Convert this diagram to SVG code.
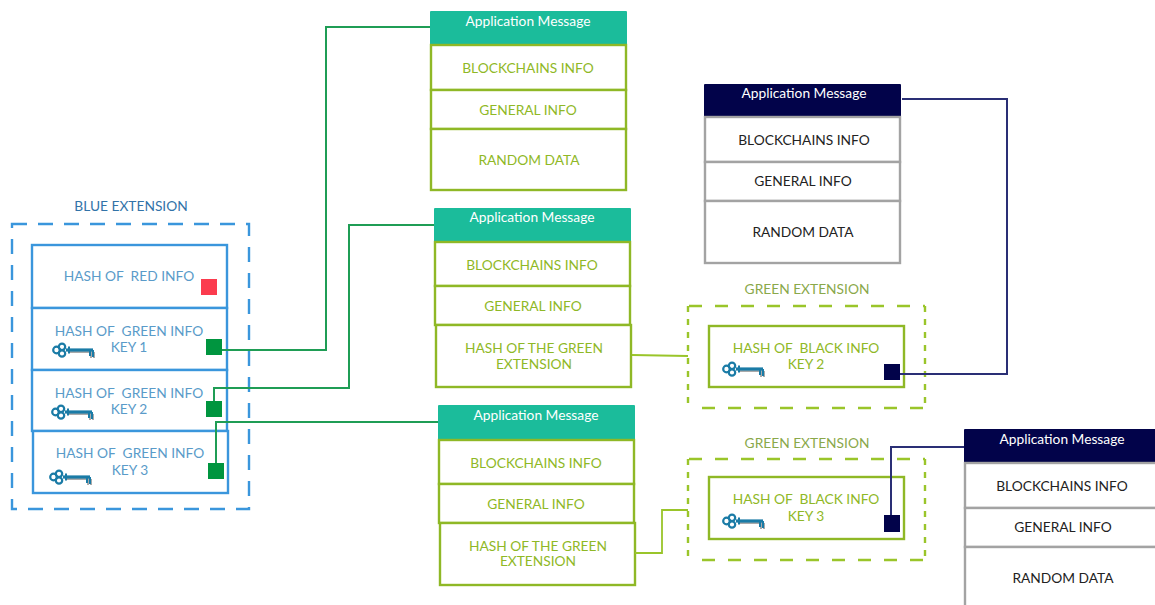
<svg xmlns="http://www.w3.org/2000/svg" width="1155" height="605" viewBox="0 0 1155 605">
<style>
text{font-family:Lato,"Open Sans","Liberation Sans",sans-serif;font-size:13.75px;text-anchor:middle}
.b{fill:#fff;stroke:#3a96dc;stroke-width:2.4}
.g{fill:#fff;stroke:#8fb826;stroke-width:2.4}
.k{fill:#fff;stroke:#a3a3a3;stroke-width:2.4}
.hg{fill:#1bbc9b}.hn{fill:#02034a}
.tb{fill:#5a9bc9}.tg{fill:#8fb826}.tk{fill:#222}.tw{fill:#fff}
.db{fill:none;stroke:#3a96dc;stroke-width:2.4;stroke-dasharray:15 11}
.dg{fill:none;stroke:#9ac52a;stroke-width:2.4;stroke-dasharray:13 13}
.dv{fill:none;stroke:#9ac52a;stroke-width:2.4;stroke-dasharray:6 7}
.cg{fill:none;stroke:#1f9d55;stroke-width:2}
.cl{fill:none;stroke:#9ac52a;stroke-width:1.8}
.cn{fill:none;stroke:#2a2f75;stroke-width:2}
.sq{fill:#00953f}.sn{fill:#02034a}
</style>
<defs>
<g id="key" fill="none">
<path d="M16 9H42M39 9V15M42 9V15" stroke="#aaa" stroke-width="2"/>
<g stroke="#1a7ba6">
<circle cx="4.500" cy="7" r="3.300" stroke-width="2.200"/><circle cx="10" cy="3.800" r="3.200" stroke-width="2.200"/><circle cx="10" cy="10.500" r="3.200" stroke-width="2.200"/>
<path d="M14 7H41" stroke-width="3.200"/><path d="M17 3.500V10.500" stroke-width="2"/><path d="M38 7V13M41 7V14" stroke-width="2"/>
</g>
</g>
</defs>
<g id="blue-extension">
<text x="131" y="211" style="fill:#3273a8">BLUE EXTENSION</text>
<rect class="db" x="12" y="224" width="237" height="285"/>
</g>
<g id="blue-red">
<rect class="b" x="32" y="245" width="195" height="63"/>
<text class="tb" x="129" y="281" xml:space="preserve">HASH OF  RED INFO</text>
<rect x="201" y="279" width="16" height="16" fill="#fb3b4e"/>
</g>
<g id="blue-key1">
<rect class="b" x="32" y="308" width="195" height="62"/>
<text class="tb" x="129" y="336" xml:space="preserve">HASH OF  GREEN INFO</text>
<text class="tb" x="129" y="352">KEY 1</text>
<use href="#key" x="52" y="343"/>
<rect class="sq" x="206" y="339" width="16" height="16"/>
</g>
<g id="blue-key2">
<rect class="b" x="32" y="370" width="195" height="61"/>
<text class="tb" x="129" y="398" xml:space="preserve">HASH OF  GREEN INFO</text>
<text class="tb" x="129" y="414">KEY 2</text>
<use href="#key" x="51" y="405"/>
<rect class="sq" x="206" y="401" width="16" height="16"/>
</g>
<g id="blue-key3">
<rect class="b" x="33" y="431" width="195" height="62"/>
<text class="tb" x="130" y="458" xml:space="preserve">HASH OF  GREEN INFO</text>
<text class="tb" x="130" y="475">KEY 3</text>
<use href="#key" x="49" y="470"/>
<rect class="sq" x="208" y="463" width="16" height="16"/>
</g>
<g id="table-1">
<rect class="hg" x="430" y="11" width="197" height="34" rx="1"/>
<text class="tw" x="528" y="26">Application Message</text>
<rect class="g" x="431" y="45" width="195" height="45"/>
<rect class="g" x="431" y="90" width="195" height="39"/>
<rect class="g" x="431" y="129" width="195" height="61"/>
<text class="tg" x="528" y="73">BLOCKCHAINS INFO</text>
<text class="tg" x="528" y="115">GENERAL INFO</text>
<text class="tg" x="529" y="165">RANDOM DATA</text>
</g>
<g id="table-2">
<rect class="hg" x="434" y="208" width="197" height="34" rx="1"/>
<text class="tw" x="532" y="222">Application Message</text>
<rect class="g" x="435" y="242" width="195" height="44"/>
<rect class="g" x="435" y="286" width="195" height="39"/>
<rect class="g" x="436" y="325" width="195" height="62"/>
<text class="tg" x="532" y="270">BLOCKCHAINS INFO</text>
<text class="tg" x="533" y="311">GENERAL INFO</text>
<text class="tg" x="534" y="353">HASH OF THE GREEN</text>
<text class="tg" x="534" y="369">EXTENSION</text>
</g>
<g id="table-3">
<rect class="hg" x="438" y="405" width="197" height="35" rx="1"/>
<text class="tw" x="536" y="420">Application Message</text>
<rect class="g" x="439" y="440" width="195" height="44"/>
<rect class="g" x="439" y="484" width="195" height="39"/>
<rect class="g" x="440" y="523" width="195" height="62"/>
<text class="tg" x="536" y="468">BLOCKCHAINS INFO</text>
<text class="tg" x="536" y="509">GENERAL INFO</text>
<text class="tg" x="538" y="551">HASH OF THE GREEN</text>
<text class="tg" x="538" y="566">EXTENSION</text>
</g>
<g id="table-black-1">
<rect class="hn" x="704" y="84" width="197" height="33" rx="1"/>
<text class="tw" x="804" y="98">Application Message</text>
<rect class="k" x="705" y="117" width="195" height="45"/>
<rect class="k" x="705" y="162" width="195" height="39"/>
<rect class="k" x="705" y="201" width="195" height="62"/>
<text class="tk" x="804" y="145">BLOCKCHAINS INFO</text>
<text class="tk" x="803" y="186">GENERAL INFO</text>
<text class="tk" x="803" y="237">RANDOM DATA</text>
</g>
<g id="table-black-2">
<rect class="hn" x="964" y="429" width="195" height="34" rx="1"/>
<text class="tw" x="1062" y="444">Application Message</text>
<rect class="k" x="965" y="463" width="195" height="45"/>
<rect class="k" x="965" y="508" width="195" height="39"/>
<rect class="k" x="965" y="547" width="195" height="62"/>
<text class="tk" x="1062" y="491">BLOCKCHAINS INFO</text>
<text class="tk" x="1063" y="532">GENERAL INFO</text>
<text class="tk" x="1063" y="583">RANDOM DATA</text>
</g>
<g id="green-extension-2">
<text x="807" y="294" style="fill:#8aa84a">GREEN EXTENSION</text>
<path class="dg" d="M689 306H925M702 408H925"/>
<path class="dv" d="M688 306V408M925 306V408"/>
<rect class="g" x="709" y="326" width="195" height="61"/>
<text class="tg" x="806" y="353" xml:space="preserve">HASH OF  BLACK INFO</text>
<text class="tg" x="806" y="369">KEY 2</text>
<use href="#key" x="722" y="362"/>
<rect class="sn" x="884" y="364" width="16" height="16"/>
</g>
<g id="green-extension-3">
<text x="807" y="448" style="fill:#8aa84a">GREEN EXTENSION</text>
<path class="dg" d="M689 459H925M702 560H925"/>
<path class="dv" d="M688 459V560M925 459V560"/>
<rect class="g" x="709" y="477" width="195" height="62"/>
<text class="tg" x="806" y="504" xml:space="preserve">HASH OF  BLACK INFO</text>
<text class="tg" x="806" y="521">KEY 3</text>
<use href="#key" x="722" y="514"/>
<rect class="sn" x="884" y="515" width="16" height="17"/>
</g>
<g id="connectors">
<path class="cg" d="M222 350H326V27H430"/>
<path class="cg" d="M214 401V388H349V225H434"/>
<path class="cg" d="M216 463V422H438"/>
<path class="cl" d="M632 355L688 356"/>
<path class="cl" d="M635 553H662V510H688"/>
<path class="cn" d="M900 374H1007V99H902"/>
<path class="cn" d="M891 515V447H964"/>
</g>
</svg>
